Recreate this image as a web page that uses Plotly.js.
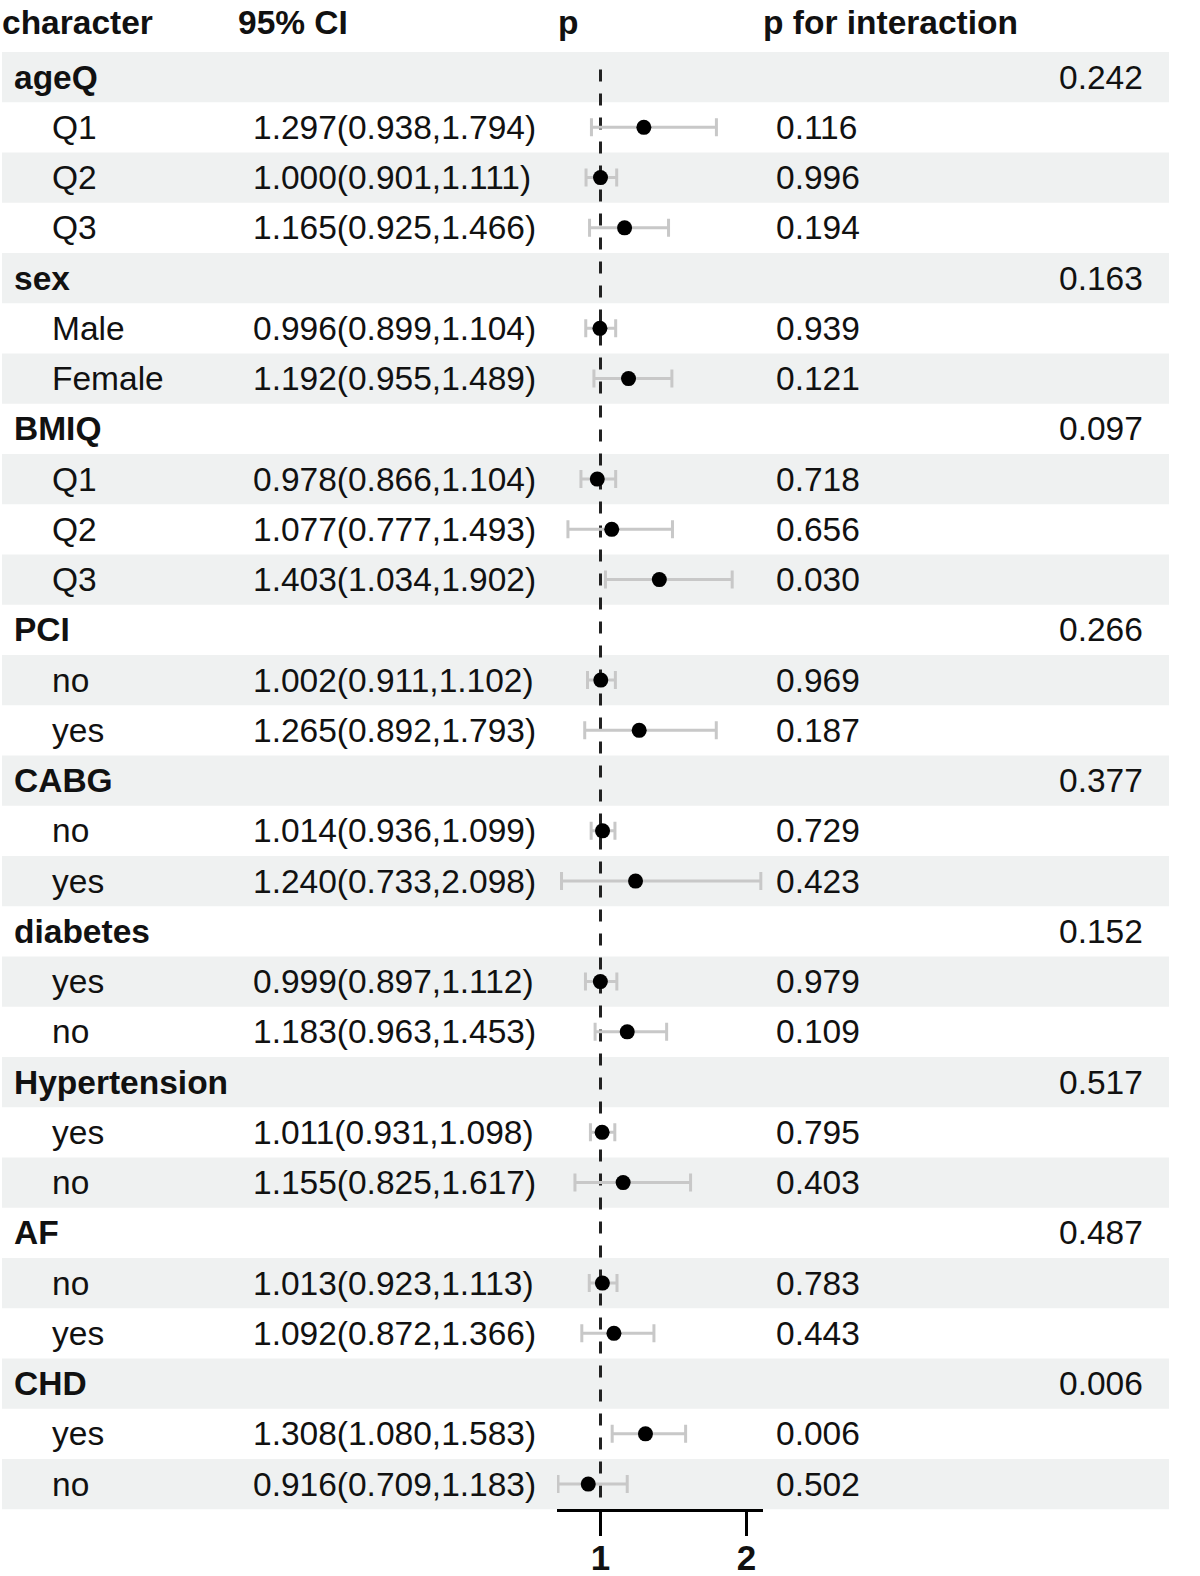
<!DOCTYPE html>
<html>
<head>
<meta charset="utf-8">
<script src="https://cdn.plot.ly/plotly-3.0.1.min.js"></script>
<style>html,body{margin:0;padding:0;background:#fff;}#chart{width:1200px;height:1576px;}</style>
</head>
<body>
<div id="chart"></div>
<script>
// ---------- data ----------
const rowLabels = ['ageQ','Q1','Q2','Q3','sex','Male','Female','BMIQ','Q1','Q2','Q3','PCI','no','yes','CABG','no','yes','diabetes','yes','no','Hypertension','yes','no','AF','no','yes','CHD','yes','no'];
const isGroup   = [1,0,0,0, 1,0,0, 1,0,0,0, 1,0,0, 1,0,0, 1,0,0, 1,0,0, 1,0,0, 1,0,0];
const estimate  = [null,1.297,1.000,1.165, null,0.996,1.192, null,0.978,1.077,1.403, null,1.002,1.265, null,1.014,1.240, null,0.999,1.183, null,1.011,1.155, null,1.013,1.092, null,1.308,0.916];
const lowerCI   = [null,0.938,0.901,0.925, null,0.899,0.955, null,0.866,0.777,1.034, null,0.911,0.892, null,0.936,0.733, null,0.897,0.963, null,0.931,0.825, null,0.923,0.872, null,1.080,0.709];
const upperCI   = [null,1.794,1.111,1.466, null,1.104,1.489, null,1.104,1.493,1.902, null,1.102,1.793, null,1.099,2.098, null,1.112,1.453, null,1.098,1.617, null,1.113,1.366, null,1.583,1.183];
const pValue    = ['','0.116','0.996','0.194', '','0.939','0.121', '','0.718','0.656','0.030', '','0.969','0.187', '','0.729','0.423', '','0.979','0.109', '','0.795','0.403', '','0.783','0.443', '','0.006','0.502'];
const pInteract = ['0.242','','','', '0.163','','', '0.097','','','', '0.266','','', '0.377','','', '0.152','','', '0.517','','', '0.487','','', '0.006','',''];
const headers   = ['character','95% CI','p','p for interaction'];
const tickVals  = [1,2];
const tickText  = ['1','2'];
const refValue  = 1;

// ---------- layout helpers ----------
const W = 1200, H = 1576;
const FONT = 'Liberation Sans, Arial, Helvetica, sans-serif';
const FS = 33.5;
const rowIdx = rowLabels.map((_, i) => i + 1);
const px = v => v / W;

const annotations = [];
function addText(xPix, r, text, bold, anchor, yshift) {
  annotations.push({
    xref: 'paper', yref: 'y', x: px(xPix), y: r, text: text,
    xanchor: anchor || 'left', yanchor: 'middle', showarrow: false,
    yshift: yshift || 0,
    font: {family: FONT, size: FS, color: '#111', weight: bold ? 'bold' : 'normal'},
    borderpad: 0, borderwidth: 0
  });
}
const headerX = [2, 238, 558, 763];
headers.forEach((h, i) => addText(headerX[i], 0, h, true, 'left', 4));

rowLabels.forEach((lab, i) => {
  const r = rowIdx[i];
  if (isGroup[i]) {
    addText(14, r, lab, true);
    addText(1143, r, pInteract[i], false, 'right');
  } else {
    addText(52, r, lab, false);
    const ci = estimate[i].toFixed(3) + '(' + lowerCI[i].toFixed(3) + ',' + upperCI[i].toFixed(3) + ')';
    addText(253, r, ci, false);
    addText(776, r, pValue[i], false);
  }
});

const shapes = [];
rowIdx.forEach(r => {
  if (r % 2 === 1) {
    shapes.push({type: 'rect', xref: 'paper', yref: 'y', x0: px(2), x1: px(1169), y0: r - 0.5, y1: r + 0.5,
      fillcolor: '#eff1f1', line: {width: 0}, layer: 'below'});
  }
});
shapes.push({type: 'line', xref: 'x', yref: 'y', x0: refValue, x1: refValue, y0: 0.85, y1: rowIdx.length + 0.5,
  line: {color: '#222', width: 3, dash: '12px,12px'}, layer: 'below'});

const plotX = [], plotY = [], errP = [], errM = [];
rowLabels.forEach((_, i) => {
  if (!isGroup[i]) {
    plotX.push(estimate[i]); plotY.push(rowIdx[i]);
    errP.push(upperCI[i] - estimate[i]); errM.push(estimate[i] - lowerCI[i]);
  }
});

const trace = {
  type: 'scatter', mode: 'markers', x: plotX, y: plotY,
  marker: {color: '#000', size: 15},
  error_x: {type: 'data', symmetric: false, array: errP, arrayminus: errM,
    color: '#c8c8c8', thickness: 3, width: 9},
  hoverinfo: 'skip', showlegend: false
};

// axis pixel geometry
const axL = 557, axR = 763, pxPerUnit = 146, onePix = 600.5;
const rowPitch = 50.25, row0Pix = 26.85;
const yTop = (0 - row0Pix) / rowPitch, yBot = (H - row0Pix) / rowPitch;

const layout = {
  width: W, height: H,
  margin: {l: 0, r: 0, t: 0, b: 0, pad: 0},
  paper_bgcolor: '#fff', plot_bgcolor: 'rgba(0,0,0,0)',
  showlegend: false,
  xaxis: {
    domain: [px(axL), px(axR)],
    range: [1 - (onePix - axL) / pxPerUnit, 1 + (axR - onePix) / pxPerUnit],
    anchor: 'free', position: (H - 1510) / H,
    showline: true, linecolor: '#000', linewidth: 2.5,
    showgrid: false, zeroline: false,
    ticks: 'outside', ticklen: 24, tickwidth: 2.5, tickcolor: '#000',
    tickvals: tickVals, ticktext: tickText,
    ticklabelstandoff: -8,
    tickfont: {family: FONT, size: 35, color: '#111', weight: 'bold'}
  },
  yaxis: {
    domain: [0, 1], range: [yBot, yTop],
    visible: false, showgrid: false, zeroline: false
  },
  shapes: shapes,
  annotations: annotations
};

Plotly.newPlot('chart', [trace], layout, {staticPlot: true, displayModeBar: false});
</script>
</body>
</html>
